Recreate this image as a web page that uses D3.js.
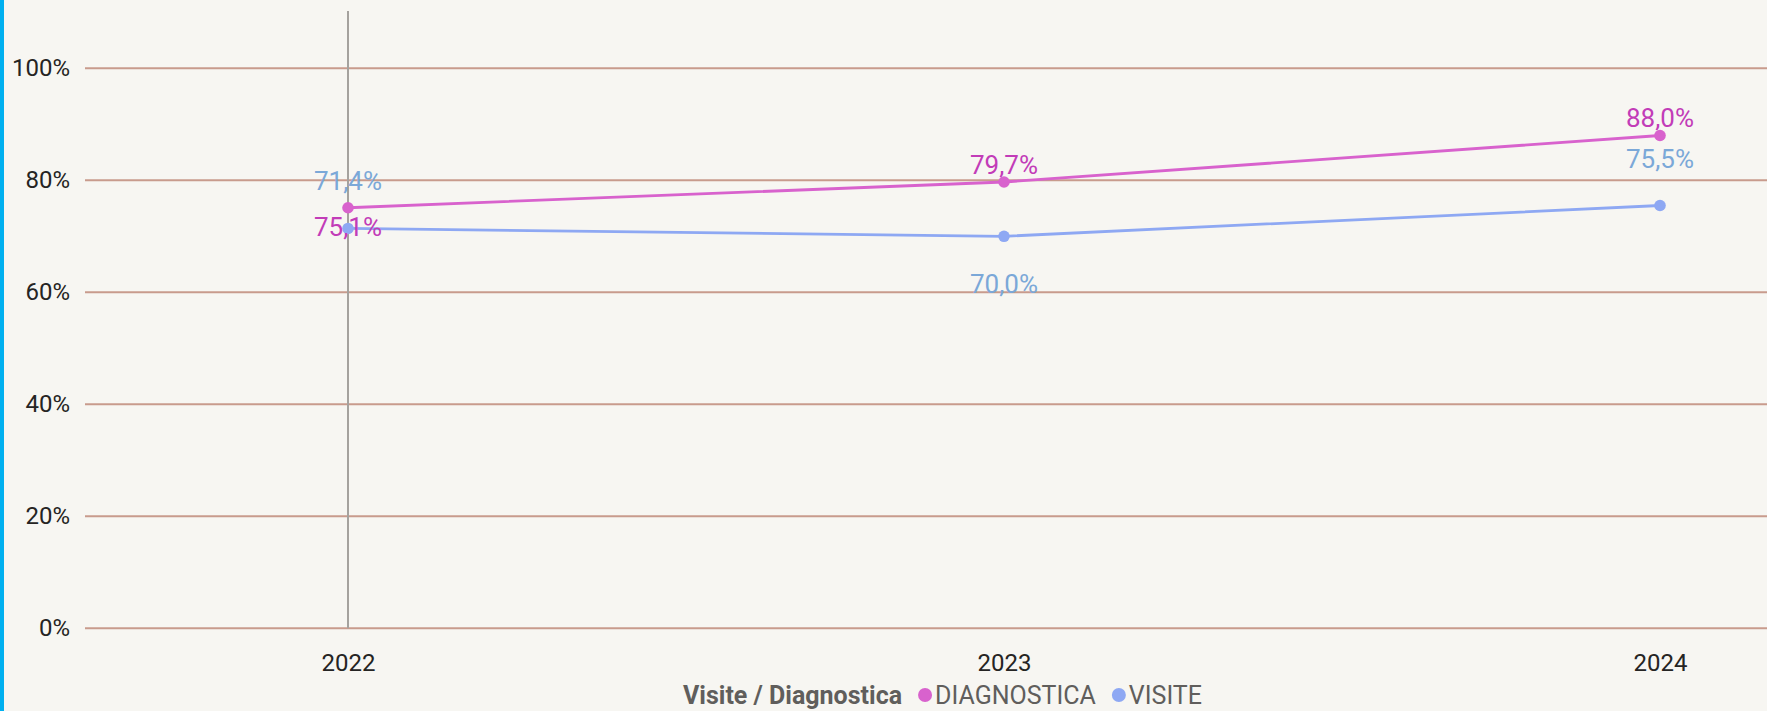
<!DOCTYPE html>
<html>
<head>
<meta charset="utf-8">
<script src="https://cdn.jsdelivr.net/npm/d3@7"></script>
<style>
  html, body { margin: 0; padding: 0; background: #f7f6f2; }
  svg { display: block; font-family: Roboto, "DejaVu Sans", sans-serif; }
</style>
</head>
<body>
<div id="chart"></div>
<script>
const years = ["2022", "2023", "2024"]
const diagnostica = [75.1, 79.7, 88.0]
const visite = [71.4, 70.0, 75.5]
const yTicks = [0, 20, 40, 60, 80, 100]
const seriesNames = ["DIAGNOSTICA", "VISITE"]

const width = 1767
, height = 711
, gridColor = "#c89b8d"
, fontSize = 24
, labelFontSize = 26
, legendFontSize = 25
, lineColors = { DIAGNOSTICA: "#d862cd", VISITE: "#8ea8f3" }
, labelColors = { DIAGNOSTICA: "#c23cb8", VISITE: "#7ba8d8" }
// label baseline offsets from the point (above < 0, below > 0)
, labelDy = { DIAGNOSTICA: [28, -8, -9], VISITE: [-38, 57, -38] }

const svg = d3.select("#chart")
  .append("svg")
  .attr("width", width)
  .attr("height", height)

svg.append("rect")
  .attr("width", width).attr("height", height)
  .style("fill", "#f7f6f2")

// blue frame edge on the left
svg.append("rect")
  .attr("x", 0).attr("y", 0)
  .attr("width", 4).attr("height", height)
  .style("fill", "#00b0f0")

const x = d3.scalePoint()
  .domain(years)
  .range([348, 1660])

const y = d3.scaleLinear()
  .domain([0, 100])
  .range([628.3, 68.3])

// horizontal gridlines
svg.append("g")
  .selectAll("line")
  .data(yTicks)
  .enter().append("line")
  .attr("x1", 85)
  .attr("x2", width)
  .attr("y1", d => y(d))
  .attr("y2", d => y(d))
  .style("stroke", gridColor)
  .style("stroke-width", 2)

// y axis labels
const yAxis = svg.append("g")
  .attr("transform", "translate(70,0)")
  .call(d3.axisLeft(y).tickValues(yTicks).tickFormat(d => d + "%").tickSize(0).tickPadding(0))
yAxis.select(".domain").remove()
yAxis.selectAll("text")
  .style("font-family", "Roboto, sans-serif")
  .style("font-size", fontSize + "px")
  .style("fill", "#252423")

// vertical marker line at first year
svg.append("line")
  .attr("x1", x(years[0])).attr("x2", x(years[0]))
  .attr("y1", 11).attr("y2", y(0))
  .style("stroke", "#a5a29e")
  .style("stroke-width", 2)

// x axis labels
const xAxis = svg.append("g")
  .attr("transform", `translate(0,${y(0)})`)
  .call(d3.axisBottom(x).tickSize(0).tickPadding(26))
xAxis.select(".domain").remove()
xAxis.selectAll("text")
  .style("font-family", "Roboto, sans-serif")
  .style("font-size", fontSize + "px")
  .style("fill", "#252423")

const seriesData = {
  DIAGNOSTICA: diagnostica,
  VISITE: visite
}

const line = d3.line()
  .x((d, i) => x(years[i]))
  .y(d => y(d))

const fmt = v => v.toFixed(1).replace(".", ",") + "%"

seriesNames.slice().reverse().forEach(name => {
  const vals = seriesData[name]
  svg.append("path")
    .datum(vals)
    .attr("d", line)
    .style("fill", "none")
    .style("stroke", lineColors[name])
    .style("stroke-width", 2.8)

  svg.append("g")
    .selectAll("circle")
    .data(vals)
    .enter().append("circle")
    .attr("cx", (d, i) => x(years[i]))
    .attr("cy", d => y(d))
    .attr("r", 5.8)
    .style("fill", lineColors[name])
})

seriesNames.forEach(name => {
  const vals = seriesData[name]
  svg.append("g")
    .selectAll("text")
    .data(vals)
    .enter().append("text")
    .attr("x", (d, i) => x(years[i]))
    .attr("y", (d, i) => y(d) + labelDy[name][i])
    .attr("text-anchor", "middle")
    .text(d => fmt(d))
    .style("font-size", labelFontSize + "px")
    .style("fill", labelColors[name])
})

// legend
const legend = svg.append("g")
const legendY = 704
let lx = 683
const title = legend.append("text")
  .attr("x", lx).attr("y", legendY)
  .text("Visite / Diagnostica")
  .style("font-size", legendFontSize + "px")
  .style("font-weight", "bold")
  .style("fill", "#605e5c")
lx += title.node().getComputedTextLength() + 16
seriesNames.forEach(name => {
  legend.append("circle")
    .attr("cx", lx + 7).attr("cy", legendY - 9)
    .attr("r", 7)
    .style("fill", lineColors[name])
  const t = legend.append("text")
    .attr("x", lx + 17).attr("y", legendY)
    .text(name)
    .style("font-size", legendFontSize + "px")
    .style("fill", "#605e5c")
  lx += 17 + t.node().getComputedTextLength() + 16
})
</script>
</body>
</html>
